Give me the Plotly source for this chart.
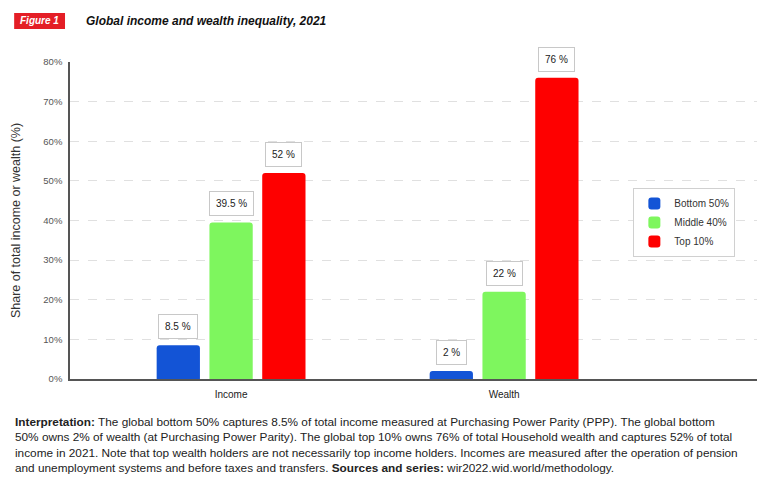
import plotly.graph_objects as go

categories = ["Income", "Wealth"]
series_names = ["Bottom 50%", "Middle 40%", "Top 10%"]
bottom50 = [8.5, 2]
middle40 = [39.5, 22]
top10 = [52, 76]
series_values = [bottom50, middle40, top10]
series_labels = [["8.5 %", "2 %"], ["39.5 %", "22 %"], ["52 %", "76 %"]]
y_ticks = [0, 10, 20, 30, 40, 50, 60, 70, 80]
y_tick_labels = ["0%", "10%", "20%", "30%", "40%", "50%", "60%", "70%", "80%"]
colors = ["#1354d6", "#7ef65e", "#fe0000"]

BARGAP = 0.42
BARGROUPGAP = 0.18

# page body has an 8px margin; work in window pixels and convert
OFF = 8
W, H = 765 - OFF, 481 - OFF
l, r, t, b = 68 - OFF, 7, 62 - OFF, H - (379 - OFF)
pw, ph = W - l - r, H - t - b


def px(xw):
    return (xw - OFF - l) / pw


def py(yw):
    return (H - b - (yw - OFF)) / ph


fig = go.Figure()
for name, vals, col in zip(series_names, series_values, colors):
    fig.add_trace(go.Bar(x=categories, y=vals, name=name, marker_color=col,
                         marker_line_width=0, hoverinfo="skip"))

slot = (1 - BARGAP) / len(series_names)
for i, (vals, labs) in enumerate(zip(series_values, series_labels)):
    for ci, (v, lab) in enumerate(zip(vals, labs)):
        fig.add_annotation(
            x=ci + (i - (len(series_names) - 1) / 2) * slot, y=v, xref="x", yref="y",
            text=lab, showarrow=False, xanchor="center", yanchor="bottom", yshift=6,
            font=dict(size=10, color="#222", family="Liberation Sans"),
            bordercolor="#c8c8c8", borderwidth=1, borderpad=6, bgcolor="white")

fig.update_layout(
    width=W, height=H,
    margin=dict(l=l, r=r, t=t, b=b),
    paper_bgcolor="white", plot_bgcolor="white",
    barmode="group", bargap=BARGAP, bargroupgap=BARGROUPGAP, barcornerradius=3,
    font=dict(family="Liberation Sans", color="#333"),
    xaxis=dict(range=[-0.59, 1.93], showgrid=False, showline=True, linecolor="#555",
               linewidth=1.5, ticks="", ticklabelstandoff=5,
               tickfont=dict(size=10, color="#222")),
    yaxis=dict(range=[0, 80], tickvals=y_ticks, ticktext=y_tick_labels,
               showline=True, linecolor="#555", linewidth=1.5,
               gridcolor="#e0e0e0", griddash="dash", gridwidth=1, zeroline=False,
               tickfont=dict(size=9.5, color="#555"), ticklabelstandoff=4,
               title=dict(text="Share of total income or wealth (%)", standoff=20,
                          font=dict(size=12.5, color="#333"))),
    legend=dict(x=px(633), y=py(188), xanchor="left", yanchor="top",
                bordercolor="#d0d0d0", borderwidth=1, bgcolor="white",
                font=dict(size=10, color="#333"), tracegroupgap=0),
    showlegend=True,
)

# Figure label box & title
fig.add_shape(type="rect", xref="paper", yref="paper", x0=px(12), x1=px(63), y0=py(29), y1=py(13),
              fillcolor="#e41e26", line_width=0, layer="above")
fig.add_annotation(x=px(37.5), y=py(21), xref="paper", yref="paper", xanchor="center", yanchor="middle",
                   text="<b><i>Figure 1</i></b>",
                   showarrow=False, font=dict(size=10, color="white", family="Liberation Sans"))
fig.add_annotation(x=px(82), y=py(21), xref="paper", yref="paper", xanchor="left", yanchor="middle",
                   text="<b><i>Global income and wealth inequality, 2021</i></b>",
                   showarrow=False, font=dict(size=12, color="#111", family="Liberation Sans"))

note_lines = [
    "<b>Interpretation:</b> The global bottom 50% captures 8.5% of total income measured at Purchasing Power Parity (PPP). The global bottom",
    "50% owns 2% of wealth (at Purchasing Power Parity). The global top 10% owns 76% of total Household wealth and captures 52% of total",
    "income in 2021. Note that top wealth holders are not necessarily top income holders. Incomes are measured after the operation of pension",
    "and unemployment systems and before taxes and transfers. <b>Sources and series:</b> wir2022.wid.world/methodology.",
]
fig.add_annotation(x=px(11), y=py(413), xref="paper", yref="paper", xanchor="left", yanchor="top",
                   align="left", text="<br>".join(note_lines), showarrow=False,
                   font=dict(size=11.8, color="#222", family="Liberation Sans"))

fig.write_html("out.html")
